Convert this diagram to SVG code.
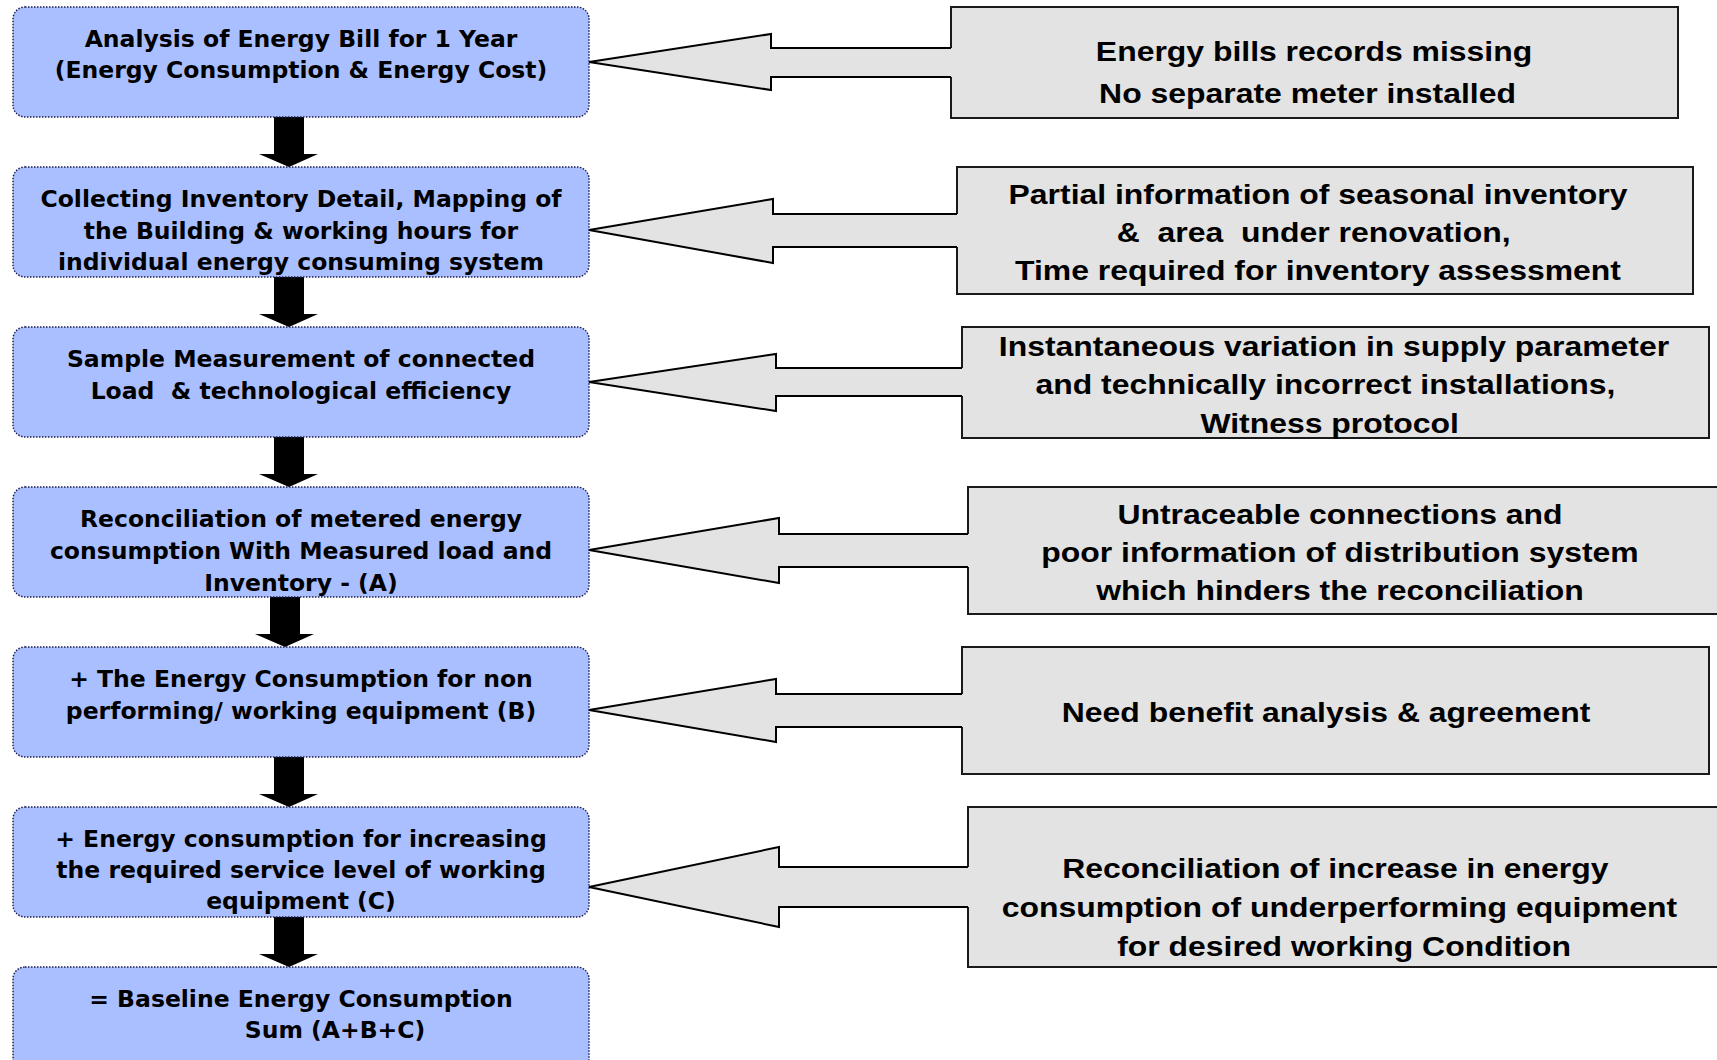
<svg xmlns="http://www.w3.org/2000/svg" width="1717" height="1060" viewBox="0 0 1717 1060">
<style>
.step{fill:#aabfff;stroke:#202050;stroke-width:1.5;stroke-dasharray:1.5 1.5}
.lt{font-family:"DejaVu Sans","Verdana",sans-serif;font-weight:bold;font-size:23.5px;fill:#000;text-anchor:middle}
.issue{fill:#e3e3e3;stroke:#1a1a1a;stroke-width:2}
.rt{font-family:"Liberation Sans",Arial,sans-serif;font-weight:bold;font-size:28px;fill:#000;text-anchor:middle}
.down{fill:#000}
.bfill{fill:#e3e3e3;stroke:none}
.bline{fill:none;stroke:#000;stroke-width:2;stroke-linejoin:miter}
</style>
<rect width="1717" height="1060" fill="#fff"/>

<g id="connectors">
  <polygon class="down" points="274,117 304,117 304,154 318,154 289,167 259,154 274,154"/>
  <polygon class="down" points="274,277 304,277 304,314 318,314 289,327 259,314 274,314"/>
  <polygon class="down" points="274,437 304,437 304,474 318,474 289,487 259,474 274,474"/>
  <polygon class="down" points="270,597 300,597 300,634 314,634 285,647 255,634 270,634"/>
  <polygon class="down" points="274,757 304,757 304,794 318,794 289,807 259,794 274,794"/>
  <polygon class="down" points="274,917 304,917 304,954 318,954 289,967 259,954 274,954"/>
</g>

<g id="step1"><rect class="step" x="13" y="7" width="576" height="110" rx="12"/>
  <text class="lt" x="301" y="47">Analysis of Energy Bill for 1 Year</text>
  <text class="lt" x="301" y="78">(Energy Consumption &amp; Energy Cost)</text></g>
<g id="step2"><rect class="step" x="13" y="167" width="576" height="110" rx="12"/>
  <text class="lt" x="301" y="207">Collecting Inventory Detail, Mapping of</text>
  <text class="lt" x="301" y="239">the Building &amp; working hours for</text>
  <text class="lt" x="301" y="270">individual energy consuming system</text></g>
<g id="step3"><rect class="step" x="13" y="327" width="576" height="110" rx="12"/>
  <text class="lt" x="301" y="367">Sample Measurement of connected</text>
  <text class="lt" x="301" y="399" xml:space="preserve">Load  &amp; technological efficiency</text></g>
<g id="step4"><rect class="step" x="13" y="487" width="576" height="110" rx="12"/>
  <text class="lt" x="301" y="527">Reconciliation of metered energy</text>
  <text class="lt" x="301" y="559">consumption With Measured load and</text>
  <text class="lt" x="301" y="591">Inventory - (A)</text></g>
<g id="step5"><rect class="step" x="13" y="647" width="576" height="110" rx="12"/>
  <text class="lt" x="301" y="687">+ The Energy Consumption for non</text>
  <text class="lt" x="301" y="719">performing/ working equipment (B)</text></g>
<g id="step6"><rect class="step" x="13" y="807" width="576" height="110" rx="12"/>
  <text class="lt" x="301" y="847">+ Energy consumption for increasing</text>
  <text class="lt" x="301" y="878">the required service level of working</text>
  <text class="lt" x="301" y="909">equipment (C)</text></g>
<g id="step7"><rect class="step" x="13" y="967" width="576" height="115" rx="12"/>
  <text class="lt" x="301" y="1007">= Baseline Energy Consumption</text>
  <text class="lt" x="335" y="1038">Sum (A+B+C)</text></g>

<g id="issue1"><rect class="issue" x="951" y="7" width="727" height="111"/>
  <g transform="translate(1314,0) scale(1.14,1)"><text class="rt" x="0" y="61">Energy bills records missing</text><text class="rt" x="-5.7" y="103">No separate meter installed</text></g></g>
<g id="issue2"><rect class="issue" x="957" y="167" width="736" height="127"/>
  <g transform="translate(1318,0) scale(1.14,1)"><text class="rt" x="0" y="204">Partial information of seasonal inventory</text><text class="rt" x="-3.8" y="242" xml:space="preserve">&amp;  area  under renovation,</text><text class="rt" x="0" y="280">Time required for inventory assessment</text></g></g>
<g id="issue3"><rect class="issue" x="962" y="327" width="747" height="111"/>
  <g transform="translate(1334,0) scale(1.14,1)"><text class="rt" x="0" y="356">Instantaneous variation in supply parameter</text><text class="rt" x="-7.5" y="394">and technically incorrect installations,</text><text class="rt" x="-3.8" y="433">Witness protocol</text></g></g>
<g id="issue4"><rect class="issue" x="968" y="487" width="760" height="127"/>
  <g transform="translate(1340,0) scale(1.14,1)"><text class="rt" x="0" y="524">Untraceable connections and</text><text class="rt" x="0" y="562">poor information of distribution system</text><text class="rt" x="0" y="600">which hinders the reconciliation</text></g></g>
<g id="issue5"><rect class="issue" x="962" y="647" width="747" height="127"/>
  <g transform="translate(1326,0) scale(1.14,1)"><text class="rt" x="0" y="722">Need benefit analysis &amp; agreement</text></g></g>
<g id="issue6"><rect class="issue" x="968" y="807" width="760" height="160"/>
  <g transform="translate(1338,0) scale(1.14,1)"><text class="rt" x="-2.3" y="878">Reconciliation of increase in energy</text><text class="rt" x="1.3" y="917">consumption of underperforming equipment</text><text class="rt" x="5.3" y="956">for desired working Condition</text></g></g>

<g id="block-arrows">
  <polygon class="bfill" points="589,62 771,34 771,48 953,48 953,77 771,77 771,90"/>
  <polyline class="bline" points="951,48 771,48 771,34 589,62 771,90 771,77 951,77"/>
  <polygon class="bfill" points="589,230 773,199 773,214 959,214 959,247 773,247 773,263"/>
  <polyline class="bline" points="957,214 773,214 773,199 589,230 773,263 773,247 957,247"/>
  <polygon class="bfill" points="589,382 776,354 776,368 964,368 964,396 776,396 776,411"/>
  <polyline class="bline" points="962,368 776,368 776,354 589,382 776,411 776,396 962,396"/>
  <polygon class="bfill" points="589,550 779,518 779,534 970,534 970,567 779,567 779,583"/>
  <polyline class="bline" points="968,534 779,534 779,518 589,550 779,583 779,567 968,567"/>
  <polygon class="bfill" points="589,710 776,679 776,694 964,694 964,727 776,727 776,742"/>
  <polyline class="bline" points="962,694 776,694 776,679 589,710 776,742 776,727 962,727"/>
  <polygon class="bfill" points="589,887 779,847 779,867 970,867 970,907 779,907 779,927"/>
  <polyline class="bline" points="968,867 779,867 779,847 589,887 779,927 779,907 968,907"/>
</g>
</svg>
